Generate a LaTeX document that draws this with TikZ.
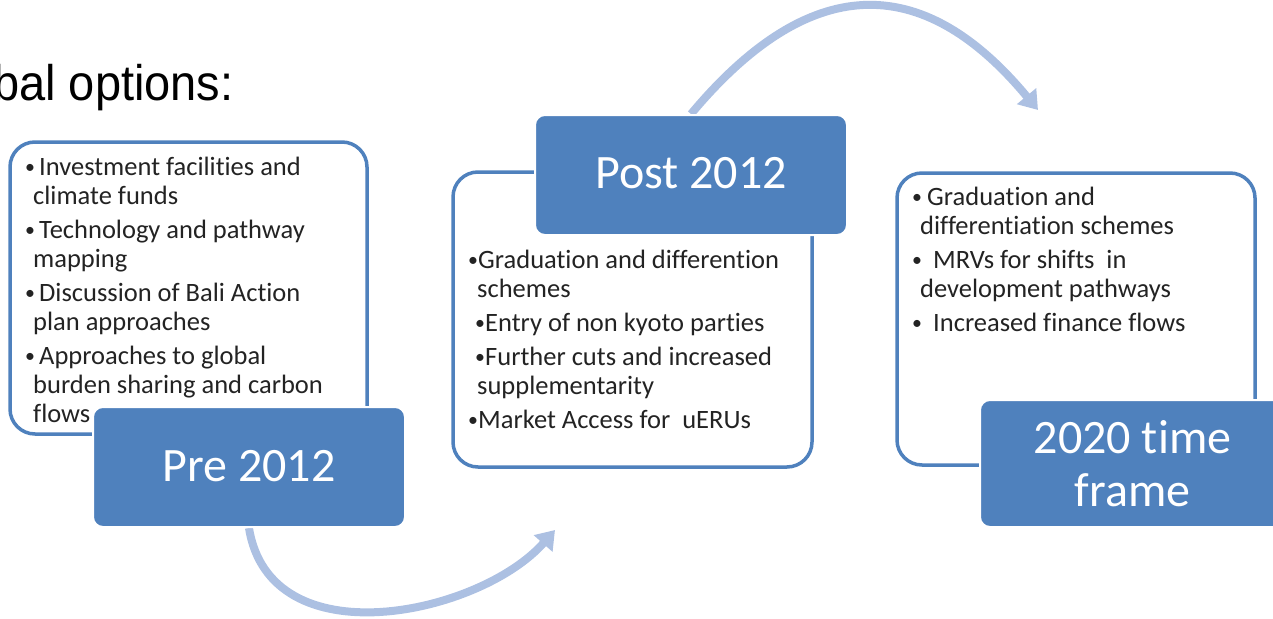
\documentclass[tikz,border=0pt]{standalone}
\usepackage{fontspec}
\setmainfont{Carlito}[Ligatures={NoCommon}]
\newfontfamily\headingfont{Liberation Sans}
\usetikzlibrary{arrows.meta,backgrounds}

\definecolor{boxblue}{RGB}{79,129,189}
\definecolor{flowblue}{RGB}{172,192,226}
\definecolor{bodytext}{RGB}{35,35,35}

\tikzset{
  panel/.style={draw=boxblue, line width=3.5pt, fill=white, rounded corners=25pt, inner sep=0pt},
  stage/.style={draw=white, line width=2pt, fill=boxblue, rounded corners=10pt, text=white,
                inner sep=0pt, align=center, font=\fontsize{48}{53}\selectfont},
  itemtext/.style={anchor=north west, inner sep=0pt, align=left, text=bodytext,
                   font=\fontsize{26.5}{29}\selectfont},
  flow/.style={draw=flowblue, line width=8pt, -{Triangle[width=24pt,length=18pt]}},
}
% small bullet in a box of the given width
\newcommand{\itm}[1]{\makebox[#1][l]{\raisebox{1.5pt}{\scalebox{0.75}{\textbullet}}}}

\begin{document}
\begin{tikzpicture}[x=1pt, y=-1pt]
  \useasboundingbox (0,0) rectangle (1273,618);
  \clip (0,0) rectangle (1273,618);

  % heading
  \node[anchor=base west, inner sep=0pt, font=\headingfont\fontsize{50}{60}\selectfont] (heading)
    at (-7,100) {\scalebox{0.94}[1]{bal options:}};

  % text panels
  \node[panel, minimum width=357pt, minimum height=292pt] (prepanel) at (188.5,288) {};
  \node[panel, minimum width=359pt, minimum height=295pt] (postpanel) at (632.5,319.5) {};
  \node[panel, minimum width=358pt, minimum height=292pt] (futpanel) at (1076,319) {};

  % panel contents
  \node[itemtext] (pretext) at (25,155) {\rule{0pt}{20pt}\itm{14pt}Investment facilities and\\
    \hspace*{8pt}climate funds\\[5pt]
    \itm{14pt}Technology and pathway\\
    \hspace*{8pt}mapping\\[5pt]
    \itm{14pt}Discussion of Bali Action\\
    \hspace*{8pt}plan approaches\\[5pt]
    \itm{14pt}Approaches to global\\
    \hspace*{8pt}burden sharing and carbon\\
    \hspace*{8pt}flows};

  \node[itemtext] (posttext) at (468,248) {\rule{0pt}{20pt}\itm{10pt}Graduation and differention\\
    \hspace*{9pt}schemes\\[5pt]
    \hspace*{7pt}\itm{10pt}Entry of non kyoto parties\\[5pt]
    \hspace*{7pt}\itm{10pt}Further cuts and increased\\
    \hspace*{9pt}supplementarity\\[5pt]
    \itm{10pt}Market Access for~~uERUs};

  \node[itemtext] (futtext) at (912,185) {\rule{0pt}{20pt}\itm{15pt}Graduation and\\
    \hspace*{8pt}differentiation schemes\\[5pt]
    \itm{21pt}MRVs for shifts~~in\\
    \hspace*{8pt}development pathways\\[5pt]
    \itm{21pt}Increased finance flows};

  % stage labels
  \node[stage, minimum width=312pt, minimum height=120pt] (prebox) at (249,467) {\raisebox{2pt}{Pre 2012}};
  \node[stage, minimum width=312pt, minimum height=120pt] (postbox) at (691,175) {\raisebox{5pt}{Post 2012}};
  \node[stage, minimum width=305pt, minimum height=127pt] (futbox) at (1132.5,463.5) {2020 time\\frame};

  % flow arrows between stages
  \coordinate (toPost) at (555,530);
  \coordinate (toFut) at (1038,110);
  \begin{scope}[on background layer]
    \draw[flow] (prebox.south) .. controls (270,660) and (480,615) .. (toPost);
    \draw[flow] (postbox.north) .. controls (808,-26) and (921,-31) .. (toFut);
  \end{scope}
\end{tikzpicture}
\end{document}
